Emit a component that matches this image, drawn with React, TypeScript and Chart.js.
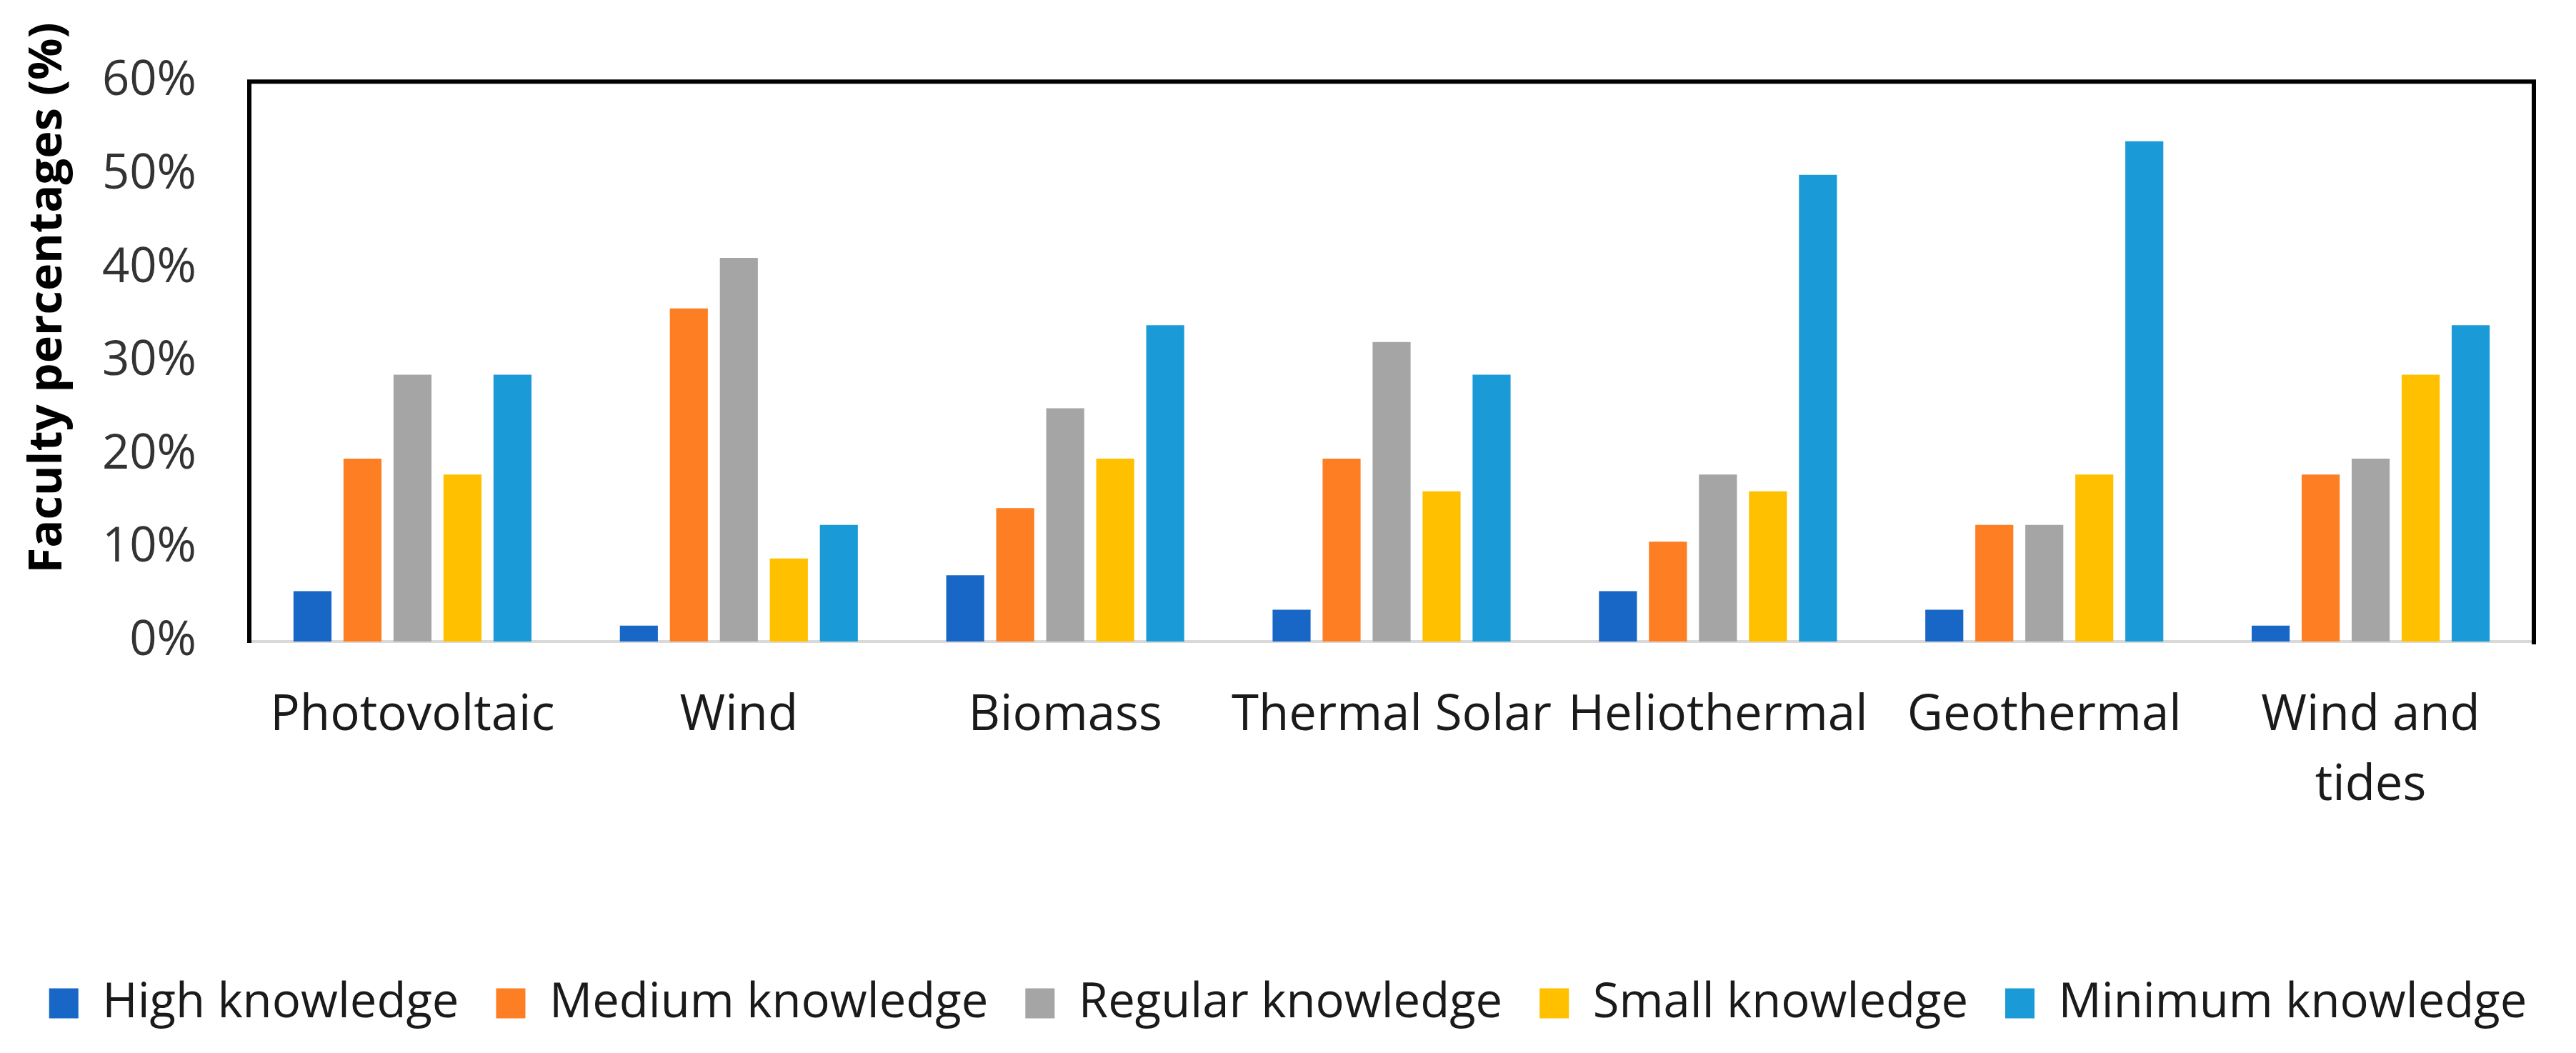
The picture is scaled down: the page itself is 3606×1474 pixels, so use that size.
import React, { useEffect, useRef } from "react";
import { Chart, registerables } from "chart.js";

Chart.register(...registerables);

const categories: (string | string[])[] = [
  "Photovoltaic",
  "Wind",
  "Biomass",
  "Thermal Solar",
  "Heliothermal",
  "Geothermal",
  ["Wind and", "tides"],
];

const seriesNames = [
  "High knowledge",
  "Medium knowledge",
  "Regular knowledge",
  "Small knowledge",
  "Minimum knowledge",
];

const highKnowledge = [5.4, 1.7, 7.1, 3.4, 5.4, 3.4, 1.7];
const mediumKnowledge = [19.6, 35.7, 14.3, 19.6, 10.7, 12.5, 17.9];
const regularKnowledge = [28.6, 41.1, 25.0, 32.1, 17.9, 12.5, 19.6];
const smallKnowledge = [17.9, 8.9, 19.6, 16.1, 16.1, 17.9, 28.6];
const minimumKnowledge = [28.6, 12.5, 33.9, 28.6, 50.0, 53.6, 33.9];

const seriesColors = ["#1867c7", "#fd7e23", "#a5a5a5", "#ffc000", "#1a9bd7"];

const yTitle = "Faculty percentages (%)";
const yMin = 0;
const yMax = 60;
const yStep = 10;

const FONT = '"Open Sans", sans-serif';

const framePlugin = {
  id: "frameAndTitle",
  afterDraw(chart: any) {
    const { ctx, chartArea: a } = chart;
    ctx.save();
    ctx.strokeStyle = "#000";
    ctx.lineWidth = 6;
    ctx.beginPath();
    ctx.moveTo(a.left, a.bottom + 2);
    ctx.lineTo(a.left, a.top);
    ctx.lineTo(a.right, a.top);
    ctx.lineTo(a.right, a.bottom + 4);
    ctx.stroke();
    ctx.restore();

    ctx.save();
    ctx.translate(67, 417);
    ctx.rotate(-Math.PI / 2);
    ctx.font = `bold 65px ${FONT}`;
    ctx.textAlign = "center";
    ctx.textBaseline = "middle";
    ctx.fillStyle = "#000";
    ctx.fillText(yTitle, 0, 0);
    ctx.restore();
  },
};

export default function App() {
  const canvasRef = useRef<HTMLCanvasElement | null>(null);

  useEffect(() => {
    document.body.style.margin = "0";
    const canvas = canvasRef.current;
    if (!canvas) return;
    const values = [
      highKnowledge,
      mediumKnowledge,
      regularKnowledge,
      smallKnowledge,
      minimumKnowledge,
    ];
    const chart = new Chart(canvas, {
      type: "bar",
      data: {
        labels: categories as any,
        datasets: seriesNames.map((name, i) => ({
          label: name,
          data: values[i],
          backgroundColor: seriesColors[i],
          borderWidth: 0,
          barPercentage: 0.76,
          categoryPercentage: 0.766,
          yAxisID: "y",
        })),
      },
      options: {
        animation: false,
        responsive: false,
        devicePixelRatio: 1,
        layout: { padding: { top: 89, right: 0, bottom: 26, left: 0 } },
        plugins: {
          tooltip: { enabled: false },
          title: { display: false },
          legend: {
            position: "bottom",
            labels: {
              boxWidth: 41,
              boxHeight: 42,
              padding: 52,
              color: "#1a1a1a",
              font: { family: FONT, size: 67 },
            },
          },
        },
        scales: {
          x: {
            grid: { display: false, drawTicks: false },
            border: { display: true, color: "#d9d9d9", width: 4 },
            ticks: {
              color: "#1a1a1a",
              font: { family: FONT, size: 69, lineHeight: 1.42 },
              padding: 55,
              maxRotation: 0,
              minRotation: 0,
              autoSkip: false,
            },
            afterFit: (s: any) => {
              s.height = 421;
            },
          },
          y: {
            min: yMin,
            max: yMax,
            grid: { display: false, drawTicks: false },
            border: { display: false },
            ticks: {
              stepSize: yStep,
              color: "#333333",
              font: { family: FONT, size: 67 },
              padding: 74,
              callback: (v: any) => `${v}%`,
            },
            afterFit: (s: any) => {
              s.width = 349;
            },
          },
          yRight: {
            position: "right",
            display: true,
            grid: { display: false, drawTicks: false },
            border: { display: false },
            ticks: { display: false },
            afterFit: (s: any) => {
              s.width = 59;
            },
          },
        },
      },
      plugins: [framePlugin],
    });
    return () => chart.destroy();
  }, []);

  return (
    <div style={{ width: 3606, height: 1474, background: "#fff" }}>
      <canvas
        ref={canvasRef}
        width={3606}
        height={1474}
        style={{ display: "block", width: 3606, height: 1474 }}
      />
    </div>
  );
}
